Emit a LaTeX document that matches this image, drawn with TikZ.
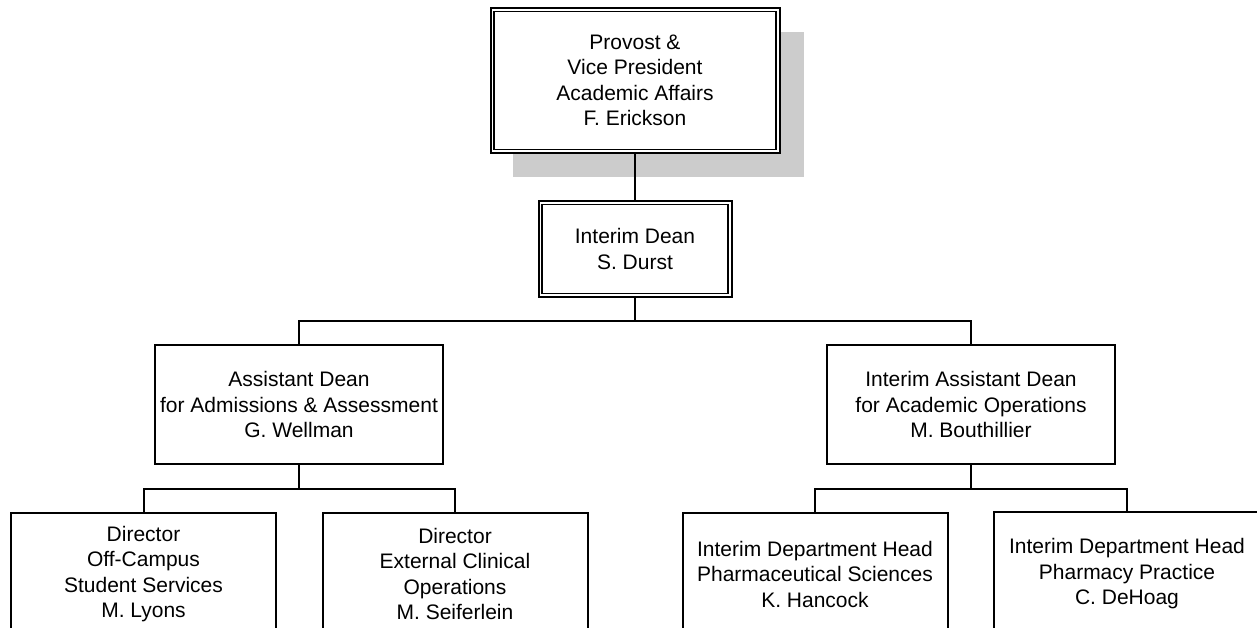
\documentclass[tikz,border=0pt]{standalone}
\usepackage{fontspec}
\setmainfont{Liberation Sans}
\definecolor{shadowgray}{HTML}{CCCCCC}
\begin{document}
\begin{tikzpicture}[x=1pt,y=-1pt,
  box/.style={draw, line width=2pt, fill=white, rectangle, inner sep=0pt, align=center,
              font=\fontsize{21}{25.5}\selectfont},
  topbox/.style={box, minimum width=289pt, minimum height=145pt},
  deanbox/.style={box, minimum width=193pt, minimum height=96pt},
  adbox/.style={box, minimum width=288pt, minimum height=119pt},
  subbox/.style={box, minimum width=265pt, minimum height=122pt},
  innerline/.style={line width=1.2pt},
  conn/.style={line width=2pt}]
\useasboundingbox (0,0) rectangle (1257,628);
\clip (0,0) rectangle (1257,628);
% shadow of the top box
\fill[shadowgray] (513,32) rectangle (804,177);
% nodes
\node[topbox] (prov) at (635,80.5) {Provost \&\\Vice President\\Academic Affairs\\F. Erickson};
\node[deanbox] (dean) at (635,249) {Interim Dean\\S. Durst};
\node[adbox] (ad1) at (299,404.5) {Assistant Dean\\for Admissions \& Assessment\\G. Wellman};
\node[adbox] (ad2) at (971,404.5) {Interim Assistant Dean\\for Academic Operations\\M. Bouthillier};
\node[subbox] (d1) at (143.5,574) {Director\\Off-Campus\\Student Services\\M. Lyons};
\node[subbox] (d2) at (455,574) {Director\\External Clinical\\Operations\\M. Seiferlein};
\node[subbox] (d3) at (815,574) {Interim Department Head\\Pharmaceutical Sciences\\K. Hancock};
\node[subbox, draw=none] (d4) at (1127,574) {Interim Department Head\\Pharmacy Practice\\C. DeHoag};
% border of the last box, whose right side lies beyond the picture
\draw[conn] (d4.north east) -- (d4.north west) -- (d4.south west);
% inner lines of the double borders
\draw[innerline] ([shift={(4.5,4.5)}]prov.north west) rectangle ([shift={(-4.5,-4.5)}]prov.south east);
\draw[innerline] ([shift={(4.5,4.5)}]dean.north west) rectangle ([shift={(-4.5,-4.5)}]dean.south east);
% connectors
\draw[conn] (prov.south) -- (dean.north);
\draw[conn] (dean.south) -- ++(0,23) coordinate (busmid) -| (ad1.north);
\draw[conn] (busmid) -| (ad2.north);
\draw[conn] (ad1.south) -- ++(0,24) coordinate (busl) -| (d1.north);
\draw[conn] (busl) -| (d2.north);
\draw[conn] (ad2.south) -- ++(0,24) coordinate (busr) -| (d3.north);
\draw[conn] (busr) -| (d4.north);
\end{tikzpicture}
\end{document}
